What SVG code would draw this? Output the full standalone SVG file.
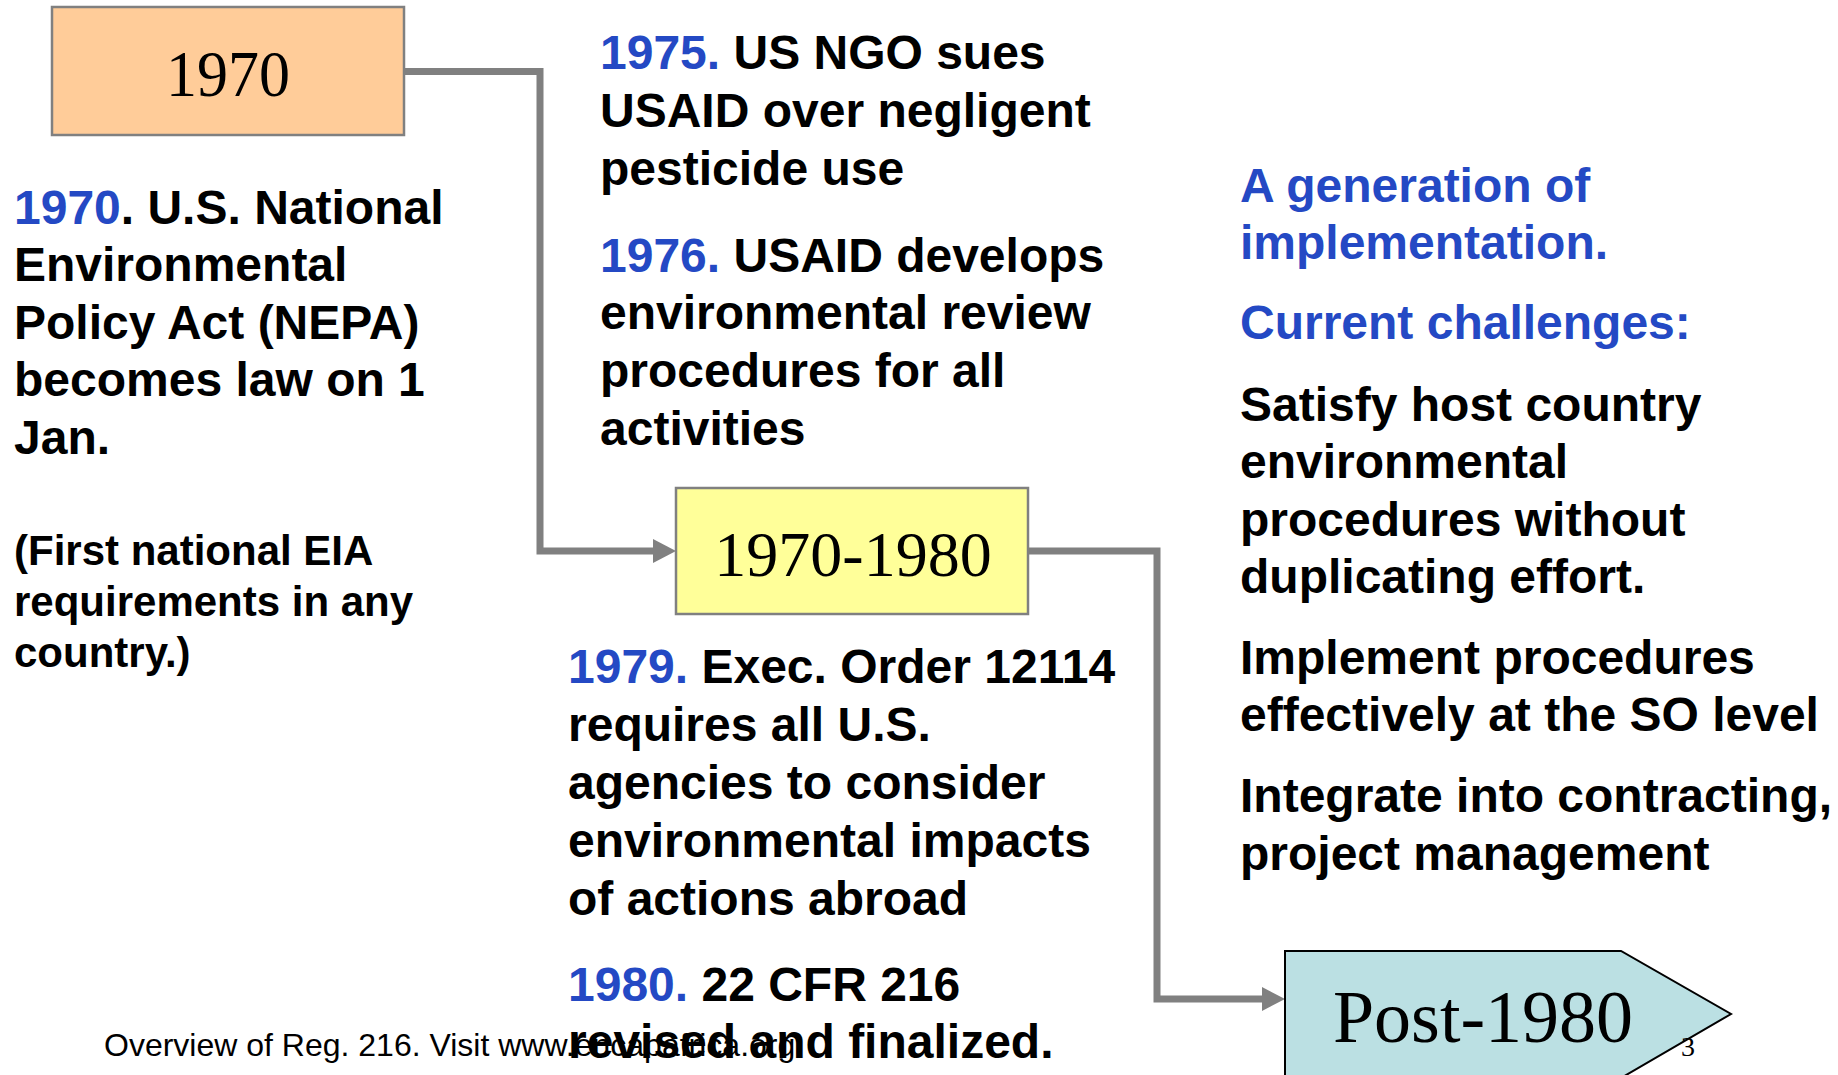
<svg xmlns="http://www.w3.org/2000/svg" width="1838" height="1075" viewBox="0 0 1838 1075">
<style>
.b{font-family:"Liberation Sans",Arial,sans-serif;font-weight:bold;font-size:48px;fill:#000}
.s{font-size:42px}
.hl{fill:#2449C4}
.box{stroke:#808080;stroke-width:2.5}
.yr{font-family:"Liberation Serif","Times New Roman",serif;fill:#000;text-anchor:middle}
.conn{fill:none;stroke:#808080;stroke-width:7;stroke-linejoin:miter}
.foot{font-family:"Liberation Sans",Arial,sans-serif;font-size:32px;fill:#000}
</style>
<defs>
<marker id="ah" markerUnits="userSpaceOnUse" markerWidth="24" markerHeight="24" refX="3" refY="12" orient="auto">
<polygon points="0,0 23,12 0,24" fill="#808080"/>
</marker>
</defs>
<rect width="1838" height="1075" fill="#fff"/>

<g id="connectors">
<path class="conn" d="M404,71.5 H540 V551 H656" marker-end="url(#ah)"/>
<path class="conn" d="M1028,551 H1157 V999 H1265" marker-end="url(#ah)"/>
</g>

<g id="node-1970">
<rect class="box" x="52" y="7" width="352" height="128" fill="#FFCC99"/>
<text class="yr" x="228" y="96" font-size="66" textLength="124" lengthAdjust="spacingAndGlyphs">1970</text>
</g>

<g id="node-1970-1980">
<rect class="box" x="676" y="488" width="352" height="126" fill="#FFFF99"/>
<text class="yr" x="853" y="576" font-size="64">1970-1980</text>
</g>

<g id="node-post-1980">
<polygon points="1285,951 1621,951 1731,1014 1621,1078 1285,1078" fill="#BBE0E3" stroke="#000" stroke-width="2"/>
<text class="yr" x="1483" y="1042" font-size="74">Post-1980</text>
</g>

<g id="text-1970">
<text class="b" x="14" y="224"><tspan class="hl">1970</tspan>. U.S. National</text>
<text class="b" x="14" y="281">Environmental</text>
<text class="b" x="14" y="339">Policy Act (NEPA)</text>
<text class="b" x="14" y="396">becomes law on 1</text>
<text class="b" x="14" y="454">Jan.</text>
<text class="b s" x="14" y="565">(First national EIA</text>
<text class="b s" x="14" y="616">requirements in any</text>
<text class="b s" x="14" y="667">country.)</text>
</g>

<g id="text-1975-1976">
<text class="b" x="600" y="69"><tspan class="hl">1975.</tspan> US NGO sues</text>
<text class="b" x="600" y="127">USAID over negligent</text>
<text class="b" x="600" y="185">pesticide use</text>
<text class="b" x="600" y="272"><tspan class="hl">1976.</tspan> USAID develops</text>
<text class="b" x="600" y="329">environmental review</text>
<text class="b" x="600" y="387">procedures for all</text>
<text class="b" x="600" y="445">activities</text>
</g>

<g id="footer">
<text class="foot" x="104" y="1056">Overview of Reg. 216. Visit www.encapafrica.org</text>
<text x="1688" y="1056" font-family="Liberation Serif,serif" font-size="28" text-anchor="middle">3</text>
</g>

<g id="text-1979-1980">
<text class="b" x="568" y="683"><tspan class="hl">1979.</tspan> Exec. Order 12114</text>
<text class="b" x="568" y="741">requires all U.S.</text>
<text class="b" x="568" y="799">agencies to consider</text>
<text class="b" x="568" y="857">environmental impacts</text>
<text class="b" x="568" y="915">of actions abroad</text>
<text class="b" x="568" y="1001"><tspan class="hl">1980.</tspan> 22 CFR 216</text>
<text class="b" x="568" y="1058">revised and finalized.</text>
</g>

<g id="text-post-1980">
<text class="b hl" x="1240" y="202">A generation of</text>
<text class="b hl" x="1240" y="259">implementation.</text>
<text class="b hl" x="1240" y="339">Current challenges:</text>
<text class="b" x="1240" y="421">Satisfy host country</text>
<text class="b" x="1240" y="478">environmental</text>
<text class="b" x="1240" y="536">procedures without</text>
<text class="b" x="1240" y="593">duplicating effort.</text>
<text class="b" x="1240" y="674">Implement procedures</text>
<text class="b" x="1240" y="731">effectively at the SO level</text>
<text class="b" x="1240" y="812">Integrate into contracting,</text>
<text class="b" x="1240" y="870">project management</text>
</g>
</svg>
